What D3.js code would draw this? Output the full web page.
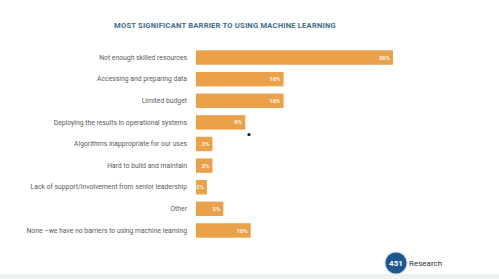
<!DOCTYPE html>
<html>
<head>
<meta charset="utf-8">
<script src="https://cdn.jsdelivr.net/npm/d3@7/dist/d3.min.js"></script>
<style>
  html, body { margin: 0; padding: 0; background: #fff; }
  svg { display: block; }
</style>
</head>
<body>
<svg id="chart" width="499" height="279"></svg>
<script>
// Survey answers: most significant barrier to using machine learning (% of respondents)
const categories = [
  "Not enough skilled resources",
  "Accessing and preparing data",
  "Limited budget",
  "Deploying the results in operational systems",
  "Algorithms inappropriate for our uses",
  "Hard to build and maintain",
  "Lack of support/involvement from senior leadership",
  "Other",
  "None \u2013we have no barriers to using machine learning"
];
const values = [36, 16, 16, 9, 3, 3, 2, 5, 10];
const title = "MOST SIGNIFICANT BARRIER TO USING MACHINE LEARNING";

const svg = d3.select("#chart");
const font = "Roboto, 'Open Sans', sans-serif";

svg.append("rect").attr("width", 499).attr("height", 279).attr("fill", "#ffffff");

const x = d3.scaleLinear().domain([0, 36]).range([196, 393]);
const y = d3.scaleBand().domain(categories).range([46, 242]).paddingInner(0.333).paddingOuter(0.2);

// Title
svg.append("text")
  .attr("x", 225).attr("y", 27.5)
  .attr("text-anchor", "middle")
  .attr("font-family", font)
  .attr("font-weight", 700)
  .attr("font-size", 7.6)
  .attr("letter-spacing", 0.2)
  .attr("fill", "#3f6a8a")
  .text(title);

// Category axis (labels only)
const yAxis = d3.axisLeft(y).tickSize(0).tickPadding(9);
const gy = svg.append("g").attr("transform", `translate(${x(0)},0)`).call(yAxis);
gy.select(".domain").remove();
gy.selectAll("text")
  .attr("font-family", font)
  .attr("font-size", 6.8)
  .attr("fill", "#5a5a5a");

// Bars
svg.append("g").selectAll("rect")
  .data(values)
  .join("rect")
  .attr("x", x(0))
  .attr("y", (d, i) => y(categories[i]))
  .attr("width", d => x(d) - x(0))
  .attr("height", y.bandwidth())
  .attr("fill", "#eba04a");

// Value labels inside bar ends
svg.append("g").selectAll("text")
  .data(values)
  .join("text")
  .attr("x", d => x(d) - 3)
  .attr("y", (d, i) => y(categories[i]) + y.bandwidth() / 2)
  .attr("dy", "0.35em")
  .attr("text-anchor", "end")
  .attr("font-family", font)
  .attr("font-weight", 700)
  .attr("font-size", 6)
  .attr("fill", "#fff6ea")
  .text(d => d + "%");

// Pointer dot
svg.append("circle").attr("cx", 249).attr("cy", 134.5).attr("r", 1.6).attr("fill", "#111");

// Footer band
svg.append("rect").attr("x", 0).attr("y", 274).attr("width", 499).attr("height", 5).attr("fill", "#eef2f0");

// Brand mark
const logo = svg.append("g");
logo.append("circle").attr("cx", 396).attr("cy", 263).attr("r", 11.5).attr("fill", "#cfdbe8");
logo.append("circle").attr("cx", 396).attr("cy", 263).attr("r", 10.5).attr("fill", "#1d5893");
logo.append("text")
  .attr("x", 396).attr("y", 263).attr("dy", "0.35em")
  .attr("text-anchor", "middle")
  .attr("font-family", font).attr("font-weight", 700).attr("font-size", 8)
  .attr("fill", "#ffffff").text("451");
logo.append("text")
  .attr("x", 409).attr("y", 263).attr("dy", "0.35em")
  .attr("font-family", font).attr("font-size", 8)
  .attr("fill", "#333333").text("Research");
</script>
</body>
</html>
